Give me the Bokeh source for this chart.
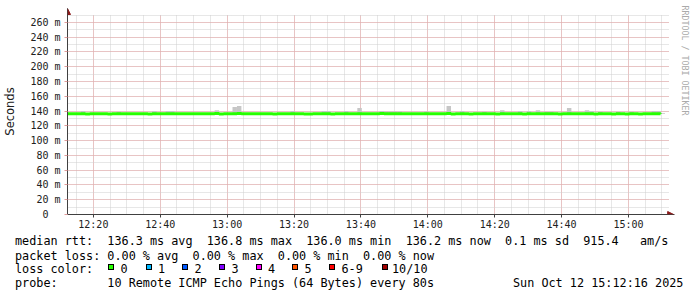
import pandas as pd
from bokeh.plotting import figure
from bokeh.models import (Range1d, FixedTicker, DatetimeTickFormatter, Arrow, Title, Div,
                          NormalHead, ColumnDataSource)
from bokeh.layouts import column
from bokeh.embed import file_html
from bokeh.resources import INLINE

# ---------------- data ----------------
start = pd.Timestamp("2025-10-12 12:12:16")
end = pd.Timestamp("2025-10-12 15:12:16")
step_s = 80

median_rtt = [
    136.4, 136.3, 136.3, 136.5, 136.0, 136.3, 136.3, 136.4, 136.3, 136.1,
    136.3, 136.4, 136.3, 136.3, 136.2, 136.3, 136.3, 136.3, 136.1, 136.4,
    136.3, 136.4, 136.4, 136.3, 136.3, 136.3, 136.3, 136.2, 136.3, 136.3,
    136.3, 136.3, 136.4, 136.6, 136.1, 136.3, 136.3, 136.5, 136.6, 136.3,
    136.3, 136.3, 136.2, 136.3, 136.3, 136.3, 136.0, 136.3, 136.3, 136.3,
    136.4, 136.3, 136.3, 136.1, 136.1, 136.3, 136.3, 136.3, 136.4, 136.1,
    136.3, 136.3, 136.4, 136.3, 136.3, 136.5, 136.3, 136.3, 136.3, 136.3,
    136.6, 136.4, 136.4, 136.4, 136.3, 136.3, 136.3, 136.3, 136.3, 136.3,
    136.5, 136.3, 136.3, 136.3, 136.3, 136.8, 136.1, 136.3, 136.4, 136.3,
    136.1, 136.3, 136.3, 136.4, 136.3, 136.3, 136.1, 136.4, 136.3, 136.3,
    136.3, 136.4, 136.1, 136.4, 136.3, 136.4, 136.3, 136.3, 136.3, 136.3,
    136.0, 136.3, 136.5, 136.3, 136.2, 136.3, 136.4, 136.3, 136.1, 136.3,
    136.3, 136.3, 136.0, 136.3, 136.3, 136.1, 136.3, 136.3, 136.1, 136.3,
    136.3, 136.4, 136.4, 136.2,
]

smoke_max = [
    137.4, 137.5, 137.4, 140.0, 137.2, 137.4, 137.5, 137.4, 137.3, 137.3,
    137.4, 139.0, 137.4, 137.4, 137.3, 137.5, 137.4, 137.4, 137.3, 140.0,
    137.4, 137.5, 140.0, 140.0, 137.4, 137.4, 137.5, 137.3, 137.4, 137.4,
    137.4, 137.5, 137.5, 141.0, 137.3, 137.4, 137.5, 145.5, 147.0, 137.5,
    137.4, 137.4, 137.3, 137.4, 137.5, 137.4, 137.2, 137.4, 137.4, 137.5,
    140.0, 137.4, 137.4, 137.3, 137.3, 137.4, 137.5, 140.0, 140.0, 137.3,
    137.4, 137.4, 140.0, 137.4, 137.5, 144.0, 137.4, 137.4, 137.4, 137.5,
    140.0, 139.5, 139.5, 139.5, 139.5, 137.4, 137.4, 137.5, 137.4, 137.4,
    139.5, 137.4, 137.4, 137.5, 137.4, 147.0, 137.3, 137.4, 140.0, 137.4,
    137.3, 137.4, 137.5, 139.0, 137.4, 137.4, 137.3, 141.0, 137.4, 137.4,
    137.4, 140.0, 137.3, 140.0, 137.4, 141.0, 137.4, 139.0, 139.0, 137.4,
    137.2, 137.4, 144.0, 137.4, 137.3, 137.5, 141.0, 140.0, 137.3, 139.0,
    137.4, 137.4, 137.2, 139.0, 137.4, 137.3, 139.0, 137.4, 137.3, 137.4,
    137.5, 140.0, 140.0, 137.4,
]

y_ticks = [0, 20, 40, 60, 80, 100, 120, 140, 160, 180, 200, 220, 240, 260]
x_tick_labels = ["12:20", "12:40", "13:00", "13:20", "13:40", "14:00", "14:20", "14:40", "15:00"]

rtt_avg, rtt_max, rtt_min, rtt_now, rtt_sd, rtt_amps = 136.3, 136.8, 136.0, 136.2, 0.1, 915.4
loss_avg, loss_max, loss_min, loss_now = 0.00, 0.00, 0.00, 0.00
loss_labels = ["0", "1", "2", "3", "4", "5", "6-9", "10/10"]
loss_colors = ["#26ff00", "#00b8ff", "#0059ff", "#7e00ff", "#ff00ff", "#ff5500", "#ff0000", "#a00000"]
probe_text = "10 Remote ICMP Echo Pings (64 Bytes) every 80s"
stamp_text = "Sun Oct 12 15:12:16 2025"
credit_text = "RRDTOOL / TOBI OETIKER"

# ---------------- chart ----------------
times = pd.date_range(start, periods=len(median_rtt), freq=f"{step_s}s")
src = ColumnDataSource(dict(t=times, t2=times + pd.Timedelta(seconds=step_s),
                            med=median_rtt, top=smoke_max))

MONO = "DejaVu Sans Mono"
# frame: x 67..674 px (3 h + 90 s), y 8..215 px
p = figure(width=697, height=232, x_axis_type="datetime",
           x_range=Range1d(start, end + pd.Timedelta(seconds=90)),
           y_range=Range1d(0, 278.8),
           output_backend="svg", toolbar_location=None,
           min_border_left=67, min_border_right=23, min_border_top=8, min_border_bottom=17)
p.outline_line_color = None
p.background_fill_color = "white"
p.border_fill_color = "white"

p.quad(left="t", right="t2", bottom="med", top="top", source=src,
       fill_color="#c6c6c6", line_color=None)
p.step(x="t", y="med", source=src, mode="after", line_color="#26ff00", line_width=3)


def ms(ts):
    return ts.value // 10**6


x_major = [ms(pd.Timestamp(f"2025-10-12 {s}")) for s in x_tick_labels]
x_minor = [ms(start.floor("5min") + pd.Timedelta(minutes=5 * k)) for k in range(0, 38)]
p.xaxis.ticker = FixedTicker(ticks=x_major, minor_ticks=x_minor)
p.xaxis.formatter = DatetimeTickFormatter(minutes="%H:%M", hourmin="%H:%M", hours="%H:%M",
                                          minsec="%H:%M", seconds="%H:%M")
p.yaxis.ticker = FixedTicker(ticks=y_ticks, minor_ticks=list(range(0, 271, 10)))
p.yaxis.major_label_overrides = {t: (f"{t} m" if t else "0\u00a0\u00a0") for t in y_ticks}

for ax in (p.xaxis, p.yaxis):
    ax.major_label_text_font = MONO
    ax.major_label_text_font_size = "10px"
    ax.major_label_text_color = "#202020"
    ax.minor_tick_out = 0
    ax.minor_tick_in = 0
    ax.major_tick_in = 0
    ax.major_tick_out = 3
    ax.axis_line_color = "#404040"

p.yaxis.major_tick_line_color = "#e09a9a"
p.yaxis.major_label_standoff = 4
p.xaxis.major_tick_line_color = "#404040"
p.xaxis.major_label_standoff = 1
p.yaxis.axis_label = "Seconds"
p.yaxis.axis_label_text_font = "DejaVu Sans"
p.yaxis.axis_label_text_font_size = "11.5px"
p.yaxis.axis_label_text_font_style = "normal"
p.yaxis.axis_label_text_color = "#202020"
p.yaxis.axis_label_standoff = 10

for g in (p.xgrid, p.ygrid):
    g.grid_line_color = "#e8a0a0"
    g.grid_line_dash = "1 1"
    g.minor_grid_line_color = "#cfcfcf"
    g.minor_grid_line_dash = "1 1"

# keep the grid inside the rrdtool graph area (arrows stick out of it)
try:
    p.xgrid.cross_bounds = (0, 271)
    p.ygrid.cross_bounds = (ms(start), ms(end))
except Exception:
    pass

head_c = "#8b1a1a"
p.add_layout(Arrow(end=NormalHead(size=6, fill_color=head_c, line_color=head_c),
                   x_start=ms(start), y_start=262, x_end=ms(start), y_end=278.8,
                   line_color="#404040", line_width=1))
p.add_layout(Arrow(end=NormalHead(size=6, fill_color=head_c, line_color=head_c),
                   x_start=ms(end - pd.Timedelta(minutes=3)), y_start=0,
                   x_end=ms(end + pd.Timedelta(seconds=75)), y_end=0,
                   line_color="#404040", line_width=1))

p.add_layout(Title(text=credit_text, align="left", text_font=MONO,
                   text_font_size="8.3px", text_color="#aaaaaa", text_font_style="normal",
                   standoff=10, offset=-3), "right")

# ---------------- legend text area ----------------
line1 = (f"median rtt:  {rtt_avg:.1f} ms avg  {rtt_max:.1f} ms max  {rtt_min:.1f} ms min  "
         f"{rtt_now:.1f} ms now  {rtt_sd:.1f} ms sd  {rtt_amps:.1f}   am/s")
line2 = (f"packet loss: {loss_avg:.2f} % avg  {loss_max:.2f} % max  {loss_min:.2f} % min  "
         f"{loss_now:.2f} % now")
line4 = f"probe:       {probe_text}"


def span(x, top, txt):
    return (f'<div style="position:absolute;left:{x}px;top:{top}px;white-space:pre;'
            f'line-height:14px;">{txt}</div>')


parts = [span(15, 2, line1), span(15, 16.5, line2), span(15, 30, "loss color:"),
         span(15, 44, line4), span(513, 44, stamp_text)]
sq_left = [108, 145.5, 182, 219, 255.5, 292, 329, 381.5]
lab_x = [sx + 12.5 for sx in sq_left[:-1]] + [sq_left[-1] + 10.5]
for sx, lx, c, lab in zip(sq_left, lab_x, loss_colors, loss_labels):
    parts.append(f'<div style="position:absolute;left:{sx}px;top:32px;width:6px;height:6px;'
                 f'background:{c};border:1px solid #000;"></div>')
    parts.append(span(lx, 30, lab))

html = ('<div style="position:relative;width:697px;height:65px;margin:0;padding:0;'
        f"font-family:'{MONO}',monospace;font-size:11.8px;color:#000;\">"
        + "".join(parts) + "</div>")
legend_div = Div(text=html, width=697, height=65, margin=0)

layout = column(p, legend_div, spacing=0)
open("out.html", "w").write(file_html(layout, INLINE))
